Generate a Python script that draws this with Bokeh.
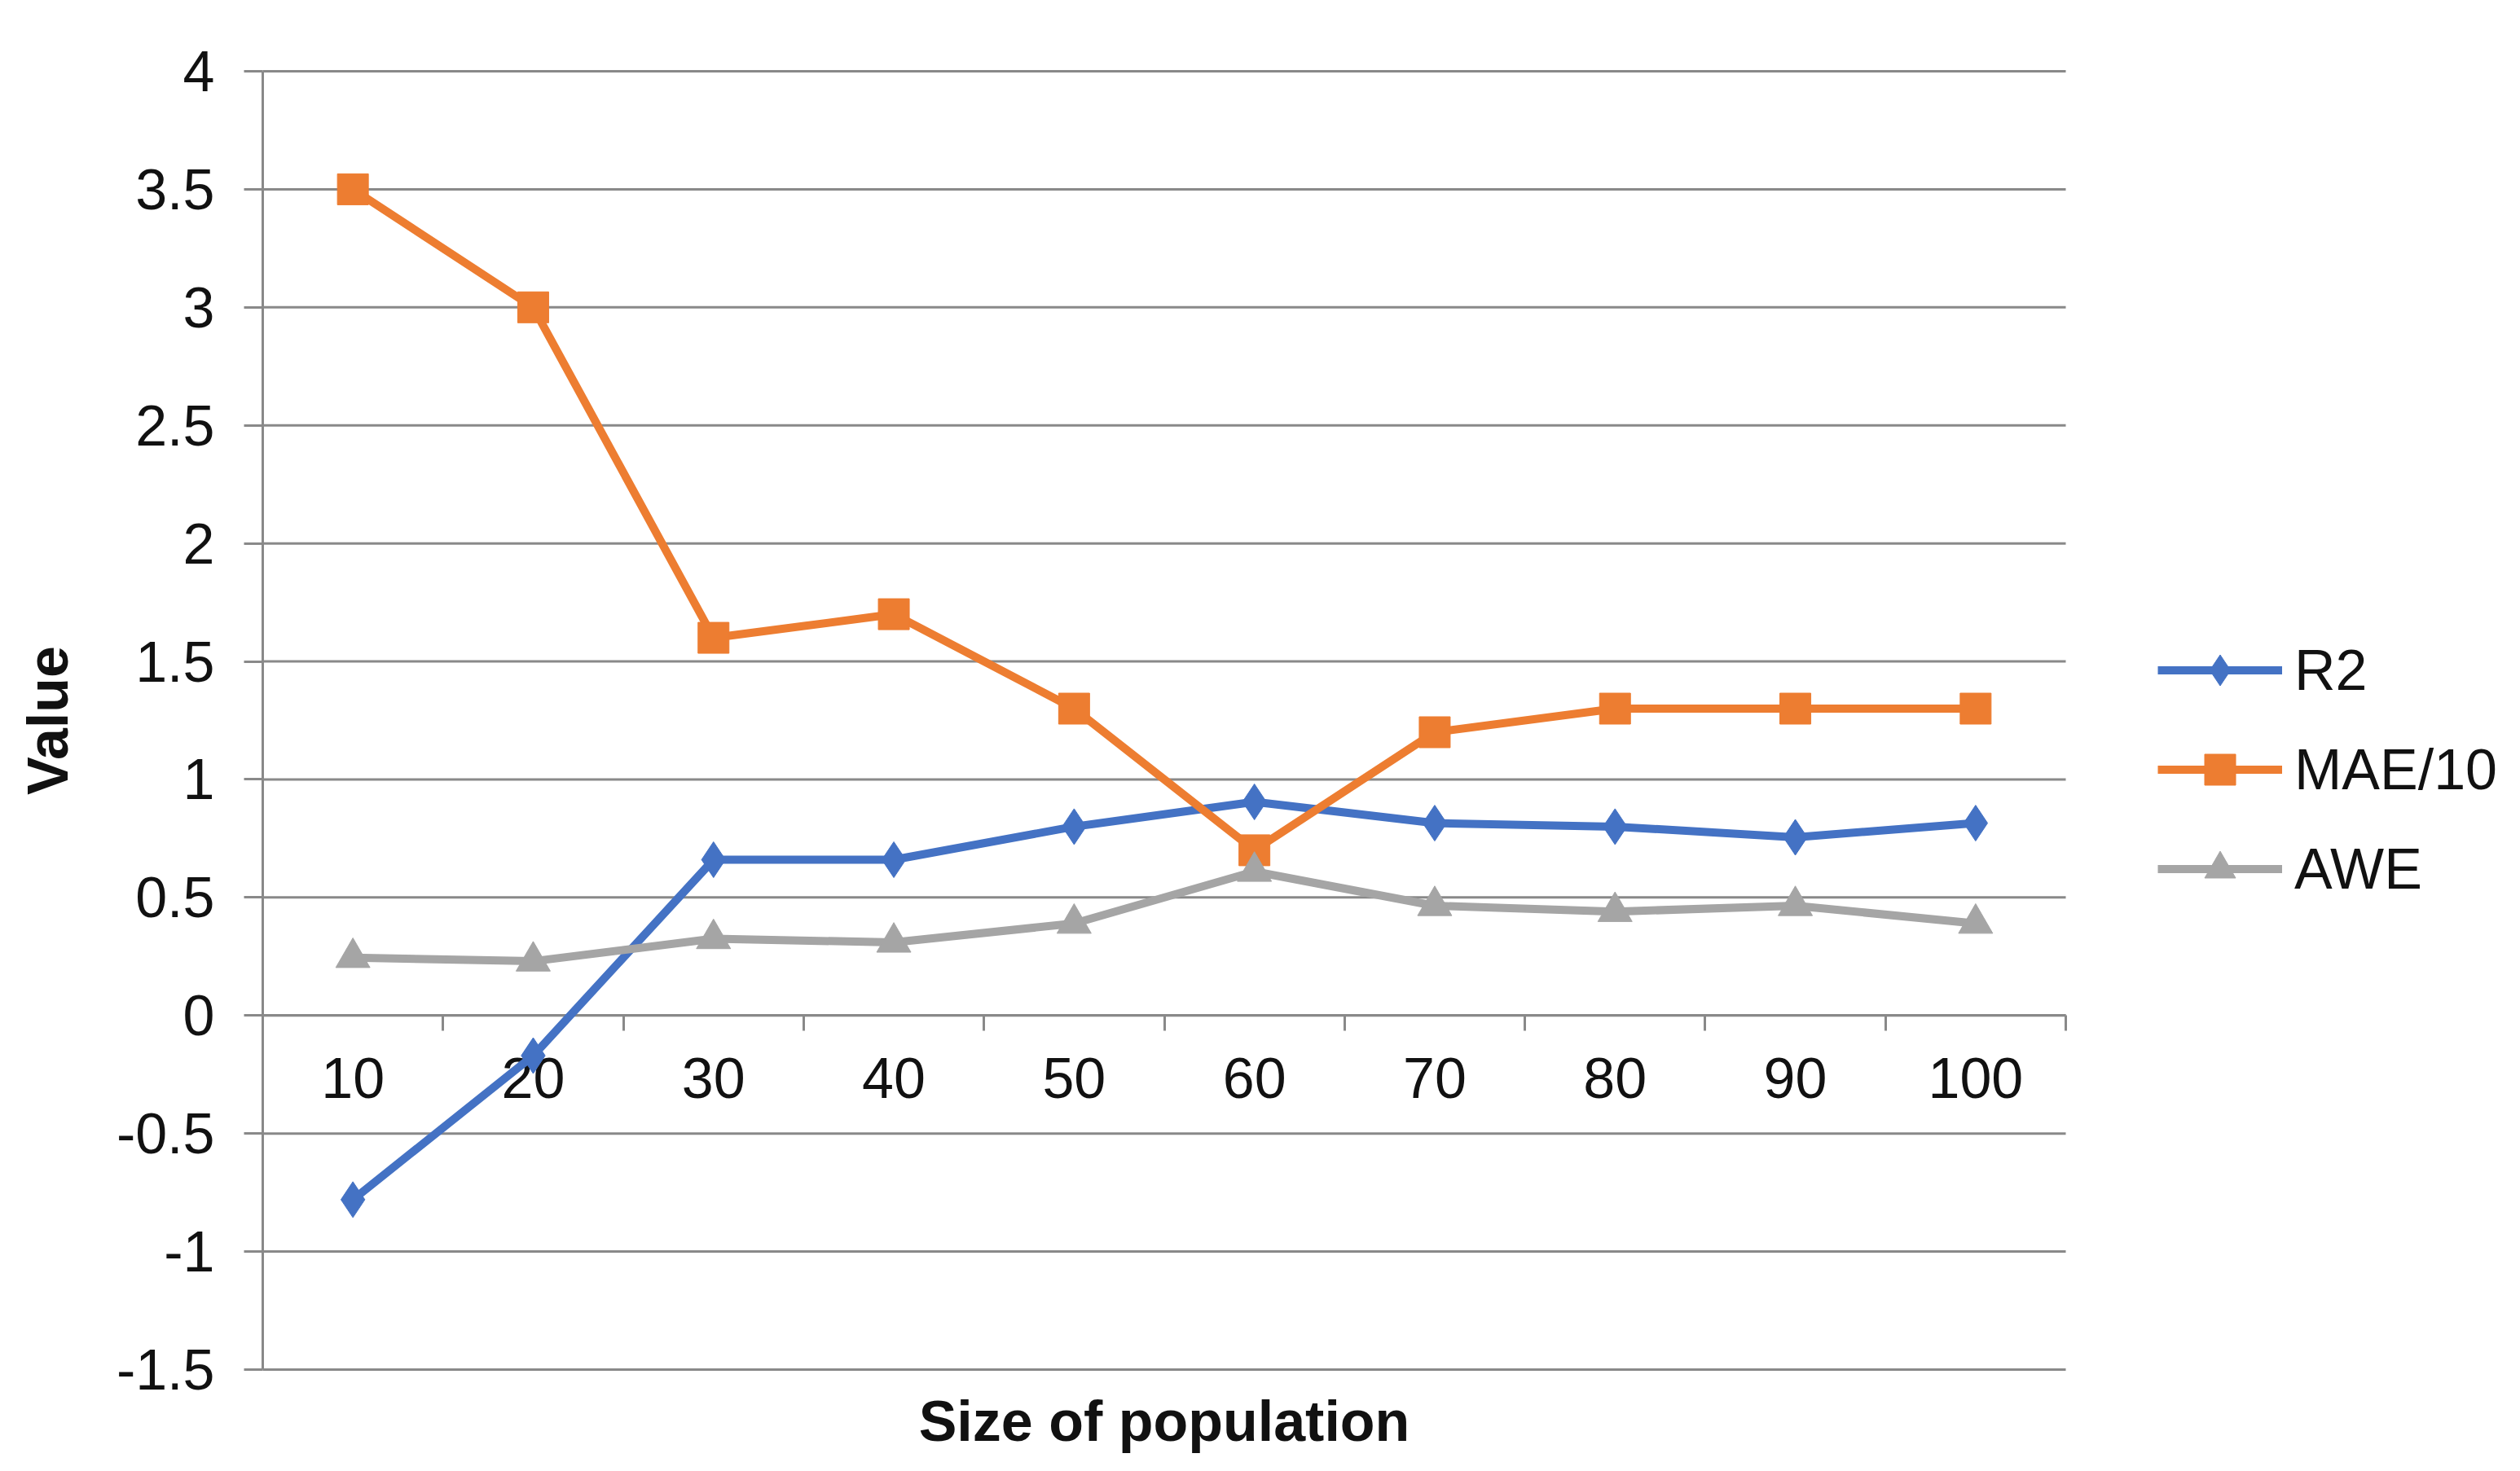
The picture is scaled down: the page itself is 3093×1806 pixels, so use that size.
import math
from bokeh.plotting import figure
from bokeh.models import (Range1d, LinearAxis, FixedTicker, NumeralTickFormatter,
                          Legend, LegendItem)
from bokeh.core.properties import value
from bokeh.embed import file_html
from bokeh.resources import INLINE

# ---- data ----
categories = ["10", "20", "30", "40", "50", "60", "70", "80", "90", "100"]
r2 = [-0.78, -0.17, 0.66, 0.66, 0.80, 0.905, 0.815, 0.80, 0.755, 0.815]
mae10 = [3.5, 3.0, 1.6, 1.7, 1.3, 0.7, 1.2, 1.3, 1.3, 1.3]
awe = [0.245, 0.23, 0.325, 0.31, 0.39, 0.61, 0.465, 0.44, 0.465, 0.39]
y_ticks = [-1.5, -1.0, -0.5, 0.0, 0.5, 1.0, 1.5, 2.0, 2.5, 3.0, 3.5, 4.0]
series_names = ["R2", "MAE/10", "AWE"]
x_title = "Size of population"
y_title = "Value"

# ---- styling / geometry ----
FONT = "Liberation Sans"
GRID = "#898989"
TXT = "#111111"
COLORS = ["#4472C4", "#ED7D31", "#A5A5A5"]
MARKERS = ["diamond", "square", "triangle"]
MSIZES = [44, 38, 42]

W, H = 3077, 1790
LEFT, TOP, BOTTOM = 322, 87, 109
PLOT_W = 2213                      # width of the gridded region
PLOT_H = H - TOP - BOTTOM          # height of the gridded region

n = len(categories)
xs = [i + 1 for i in range(n)]
bounds = [i + 0.5 for i in range(n + 1)]
x_start = bounds[0] - n * LEFT / PLOT_W
x_end = bounds[0] + n * (W - LEFT) / PLOT_W
y_lo, y_hi = y_ticks[0], y_ticks[-1]
y_start = y_lo - (y_hi - y_lo) * BOTTOM / PLOT_H
y_end = y_hi + (y_hi - y_lo) * TOP / PLOT_H

p = figure(width=W, height=H, output_backend="svg", toolbar_location=None,
           x_range=Range1d(x_start, x_end), y_range=Range1d(y_start, y_end),
           min_border_left=0, min_border_right=0,
           min_border_top=0, min_border_bottom=0)
p.outline_line_color = None
p.background_fill_color = "white"
p.border_fill_color = "white"
p.xgrid.visible = False
p.ygrid.visible = False
p.xaxis.visible = False

# horizontal gridlines, limited to the category region
p.segment(x0=[bounds[0]] * len(y_ticks), x1=[bounds[-1]] * len(y_ticks),
          y0=y_ticks, y1=y_ticks, line_color=GRID, line_width=3, level="underlay")

# y axis, drawn at the left edge of the category region
ya = p.yaxis[0]
ya.fixed_location = bounds[0]
ya.bounds = (y_lo, y_hi)
ya.ticker = FixedTicker(ticks=y_ticks)
ya.formatter = NumeralTickFormatter(format="0.[0]")
ya.axis_line_color = GRID
ya.axis_line_width = 3
ya.major_tick_line_color = GRID
ya.major_tick_line_width = 3
ya.major_tick_out = 23
ya.major_tick_in = 0
ya.minor_tick_line_color = None
ya.major_label_standoff = 36
ya.major_label_text_font = FONT
ya.major_label_text_font_size = "70px"
ya.major_label_text_color = TXT
ya.level = "underlay"

# category axis drawn on the zero line
za = LinearAxis(fixed_location=0, bounds=(bounds[0], bounds[-1]),
                ticker=FixedTicker(ticks=xs, minor_ticks=bounds),
                major_label_overrides={x: c for x, c in zip(xs, categories)})
za.axis_line_color = GRID
za.axis_line_width = 3
za.major_tick_line_color = None
za.major_tick_out = 0
za.major_tick_in = 0
za.minor_tick_line_color = GRID
za.minor_tick_line_width = 3
za.minor_tick_out = 19
za.minor_tick_in = 0
za.major_label_standoff = 33
za.major_label_text_font = FONT
za.major_label_text_font_size = "70px"
za.major_label_text_color = TXT
za.level = "underlay"
p.add_layout(za, "below")

# axis titles
p.text(x=[(bounds[0] + bounds[-1]) / 2], y=[y_lo], text=[x_title],
       y_offset=63, text_align="center", text_baseline="middle",
       text_font=value(FONT), text_font_style="bold", text_font_size="70px",
       text_color=TXT)
p.text(x=[bounds[0]], y=[(y_lo + y_hi) / 2], text=[y_title],
       x_offset=-264, angle=math.pi / 2, text_align="center", text_baseline="middle",
       text_font=value(FONT), text_font_style="bold", text_font_size="70px",
       text_color=TXT)

# series
items = []
for name, ys, col, mk, ms in zip(series_names, [r2, mae10, awe], COLORS,
                                 MARKERS, MSIZES):
    ln = p.line(xs, ys, line_color=col, line_width=10)
    sc = p.scatter(xs, ys, marker=mk, size=ms, fill_color=col, line_color=col)
    items.append(LegendItem(label=name, renderers=[ln, sc]))

legend = Legend(items=items, location=(2648, 676),
                glyph_width=153, glyph_height=95, label_height=95,
                label_standoff=15, spacing=27, padding=0, margin=0,
                border_line_color=None, background_fill_alpha=0,
                label_text_font=FONT, label_text_font_size="70px",
                label_text_color=TXT)
p.add_layout(legend, "center")

open("out.html", "w").write(file_html(p, INLINE))
